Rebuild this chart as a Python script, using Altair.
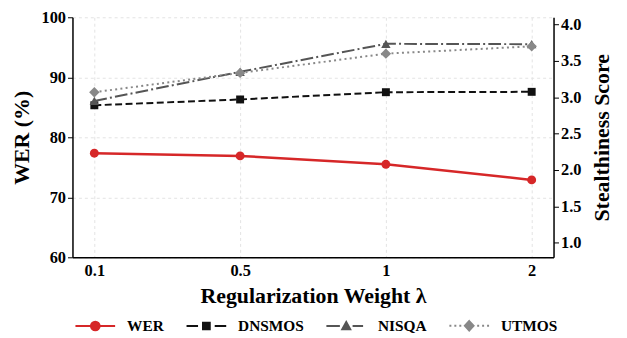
import altair as alt
import pandas as pd

# ---------------- data ----------------
x_labels = ["0.1", "0.5", "1", "2"]
wer = [77.35, 76.9, 75.5, 72.9]
dnsmos = [2.89, 2.97, 3.07, 3.075]
nisqa = [2.95, 3.35, 3.735, 3.73]
utmos = [3.07, 3.335, 3.60, 3.70]

series_names = ["WER", "DNSMOS", "NISQA", "UTMOS"]
series_colors = ["#d62728", "#111111", "#555555", "#888888"]

left_ticks = [60, 70, 80, 90, 100]
right_ticks = [1.0, 1.5, 2.0, 2.5, 3.0, 3.5, 4.0]

FONT = "Liberation Serif"

rows = []
for name, vals in zip(series_names, [wer, dnsmos, nisqa, utmos]):
    for i, (lab, v) in enumerate(zip(x_labels, vals)):
        rows.append({"series": name, "idx": i, "label": lab, "value": v})
df = pd.DataFrame(rows)

label_expr = "[" + ",".join(f"'{l}'" for l in x_labels) + "][datum.value]"

x_enc = alt.X(
    "idx:Q",
    scale=alt.Scale(domain=[-0.15, len(x_labels) - 1 + 0.15], nice=False, zero=False),
    axis=alt.Axis(
        values=list(range(len(x_labels))),
        labelExpr=label_expr,
        title="Regularization Weight λ",
        grid=True,
        gridDash=[3, 3],
        gridColor="#e3e3e3",
        ticks=False,
        labelPadding=5,
        titlePadding=7,
    ),
)

y_left = alt.Y(
    "value:Q",
    scale=alt.Scale(domain=[60, 100], nice=False, zero=False),
    axis=alt.Axis(
        values=left_ticks,
        title="WER (%)",
        orient="left",
        grid=True,
        gridDash=[3, 3],
        gridColor="#e3e3e3",
        titlePadding=8,
    ),
)

y_right = alt.Y(
    "value:Q",
    scale=alt.Scale(domain=[0.8, 4.1], nice=False, zero=False),
    axis=alt.Axis(
        values=right_ticks,
        format=".1f",
        title="Stealthiness Score",
        orient="right",
        grid=False,
        titleAngle=270,
        titleBaseline="top",
        titlePadding=11,
    ),
)


def series_layers(name, color, y_enc, shape, size, dash=None, width=2):
    base = alt.Chart(df).transform_filter(alt.datum.series == name)
    line_kw = dict(color=color, strokeWidth=width)
    if dash:
        line_kw["strokeDash"] = dash
    line = base.mark_line(**line_kw).encode(x=x_enc, y=y_enc)
    pts = base.mark_point(filled=True, color=color, shape=shape, size=size, opacity=1).encode(
        x=x_enc, y=y_enc
    )
    return [line, pts]


# legend symbols (line + marker) as custom paths in unit space
legend_paths = [
    "M-1,0H1M0.22,0A0.22,0.22,0,1,1,-0.22,0A0.22,0.22,0,1,1,0.22,0Z",
    "M-1,0H-0.42M0.42,0H1M-0.17,-0.17H0.17V0.17H-0.17Z",
    "M-1,0H-0.32M0.32,0H0.85M0,-0.2L0.2,0.16L-0.2,0.16Z",
    "M-1,0H-0.9M-0.75,0H-0.65M-0.5,0H-0.4M0.4,0H0.5M0.65,0H0.75M0.9,0H1M0,-0.24L0.22,0L0,0.24L-0.22,0Z",
]

legend_df = pd.DataFrame({"series": series_names})
leg = alt.Legend(
    title=None,
    orient="none",
    legendX=2,
    legendY=290,
    direction="horizontal",
    symbolSize=1600,
    symbolStrokeWidth=2,
    symbolOpacity=1,
    labelFont=FONT,
    labelFontSize=15.5,
    labelFontWeight="bold",
    labelColor="black",
    labelOffset=11,
    columnPadding=18,
)
legend_layer = (
    alt.Chart(legend_df)
    .mark_point(filled=True, opacity=0, size=1600)
    .encode(
        fill=alt.Fill("series:N", scale=alt.Scale(domain=series_names, range=series_colors), legend=leg),
        stroke=alt.Stroke("series:N", scale=alt.Scale(domain=series_names, range=series_colors), legend=leg),
        shape=alt.Shape("series:N", scale=alt.Scale(domain=series_names, range=legend_paths), legend=leg),
    )
)

left = alt.layer(*series_layers("WER", series_colors[0], y_left, "circle", 81, width=2.5))
right = alt.layer(
    *series_layers("DNSMOS", series_colors[1], y_right, "square", 64, dash=[7, 3.5]),
    *series_layers("NISQA", series_colors[2], y_right, "triangle-up", 90, dash=[12.8, 3.2, 2, 3.2]),
    *series_layers("UTMOS", series_colors[3], y_right, "diamond", 110, dash=[2, 3.3]),
    legend_layer,
)

chart = (
    alt.layer(left, right)
    .resolve_scale(y="independent")
    .properties(
        width=485,
        height=242,
        autosize=alt.AutoSizeParams(type="none"),
        padding={"left": 65, "top": 8, "right": 66, "bottom": 80},
    )
    .configure_view(stroke=None)
    .configure_axis(
        labelFont=FONT,
        labelFontSize=16.5,
        labelFontWeight="bold",
        labelColor="black",
        titleFont=FONT,
        titleFontSize=22,
        titleFontWeight="bold",
        titleColor="black",
        domainColor="black",
        domainWidth=1.5,
        tickColor="black",
        tickSize=5,
        labelPadding=2,
    )
)

chart.save("out.html", embed_options={"renderer": "svg", "actions": False})
